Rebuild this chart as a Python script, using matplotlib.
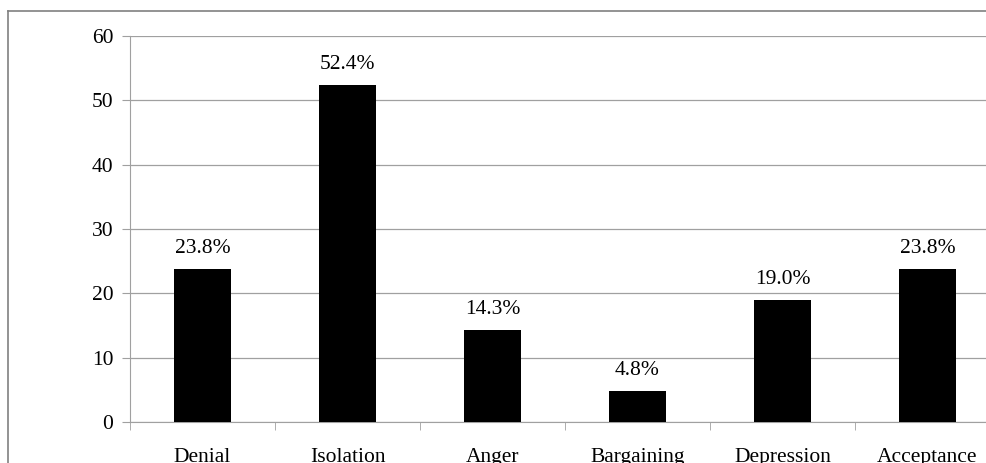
import matplotlib
matplotlib.use("Agg")
import matplotlib.pyplot as plt
from matplotlib.lines import Line2D
import numpy as np

stages = ['Denial', 'Isolation', 'Anger', 'Bargaining', 'Depression', 'Acceptance']
percent = [23.8, 52.4, 14.3, 4.8, 19.0, 23.8]
yticks = [0, 10, 20, 30, 40, 50, 60]

plt.rcParams['font.family'] = ['Liberation Serif', 'DejaVu Serif']
W, H = 987, 463
fig = plt.figure(figsize=(W / 100, H / 100), dpi=100)

# plot area runs a little past the right edge of the canvas
x0, x1, y_top, y_zero = 130, 1000, 36, 422
ax = fig.add_axes([x0 / W, (H - y_zero) / H, (x1 - x0) / W, (y_zero - y_top) / H])

grid_c = '#a0a0a0'
fs = 15.5
x = np.arange(len(stages))
ax.bar(x, percent, width=0.39, color='black', zorder=3)
for xi, v in zip(x, percent):
    ax.annotate(f'{v:.1f}%', (xi, v), xytext=(0, 8), textcoords='offset points',
                ha='center', va='bottom', fontsize=fs)

ax.set_xlim(-0.5, len(stages) - 0.5)
ax.set_ylim(0, 60)
ax.set_yticks(yticks)
ax.yaxis.grid(True, color=grid_c, linewidth=0.9)
ax.set_axisbelow(True)
ax.tick_params(axis='y', length=6, color=grid_c, labelsize=fs, pad=6)

# category labels centred, tick marks between categories
ax.set_xticks(x)
ax.set_xticklabels(stages)
ax.set_xticks(np.arange(len(stages) + 1) - 0.5, minor=True)
ax.tick_params(axis='x', which='major', length=0, labelsize=fs, pad=19)
ax.tick_params(axis='x', which='minor', length=6, color=grid_c)

for s in ['top', 'right']:
    ax.spines[s].set_visible(False)
for s in ['left', 'bottom']:
    ax.spines[s].set_color(grid_c)

# chart border
fx, fy = 8 / W, 1 - 11 / H
fig.add_artist(Line2D([fx, fx], [-0.1, fy], transform=fig.transFigure, color='#808080', lw=1.2))
fig.add_artist(Line2D([fx, 1.1], [fy, fy], transform=fig.transFigure, color='#808080', lw=1.2))

fig.savefig('out.png', dpi=100)
